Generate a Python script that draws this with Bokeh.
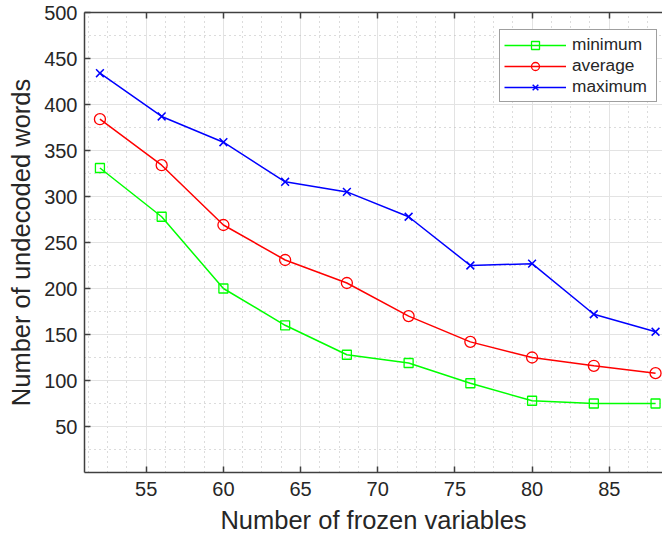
from bokeh.plotting import figure
from bokeh.models import FixedTicker, Range1d, LinearAxis, Legend, LegendItem
from bokeh.embed import file_html
from bokeh.resources import INLINE

frozen = [52, 56, 60, 64, 68, 72, 76, 80, 84, 88]
minimum = [331, 278, 200, 160, 128, 119, 97, 78, 75, 75]
average = [384, 334, 269, 231, 206, 170, 142, 125, 116, 108]
maximum = [434, 387, 359, 316, 305, 278, 225, 227, 172, 153]

x_ticks = [55, 60, 65, 70, 75, 80, 85]
x_minor = [51.25, 52.5, 53.75, 56.25, 57.5, 58.75, 61.25, 62.5, 63.75, 66.25, 67.5, 68.75,
           71.25, 72.5, 73.75, 76.25, 77.5, 78.75, 81.25, 82.5, 83.75, 86.25, 87.5]
y_ticks = [50, 100, 150, 200, 250, 300, 350, 400, 450, 500]
y_minor = [25, 75, 125, 175, 225, 275, 325, 375, 425, 475]

FONT = "Liberation Sans"
AX = "#404040"
TXT = "#262626"

p = figure(width=662, height=536, output_backend="svg", toolbar_location=None,
           x_range=Range1d(51, 88.45), y_range=Range1d(0, 500),
           min_border_left=84, min_border_right=0, min_border_top=12, min_border_bottom=64)
p.outline_line_color = None
p.background_fill_color = "white"

xt = FixedTicker(ticks=x_ticks, minor_ticks=x_minor)
yt = FixedTicker(ticks=y_ticks, minor_ticks=y_minor)
p.xaxis.ticker = xt
p.yaxis.ticker = yt

for ax in (p.xaxis[0], p.yaxis[0]):
    ax.axis_line_color = AX
    ax.axis_line_width = 1.5
    ax.major_tick_in = 6
    ax.major_tick_out = 0
    ax.major_tick_line_color = AX
    ax.major_tick_line_width = 1.5
    ax.minor_tick_in = 0
    ax.minor_tick_out = 0
    ax.major_label_text_font = FONT
    ax.major_label_text_font_size = "20px"
    ax.major_label_text_color = TXT
    ax.axis_label_text_font = FONT
    ax.axis_label_text_font_size = "25.5px"
    ax.axis_label_text_font_style = "normal"
    ax.axis_label_text_color = TXT

p.xaxis.axis_label = "Number of frozen variables"
p.yaxis.axis_label = "Number of undecoded words"
p.xaxis.major_label_standoff = 9
p.yaxis.major_label_standoff = 7
p.xaxis.axis_label_standoff = 7
p.yaxis.axis_label_standoff = 6

# top border with inward ticks (ticks given as "minor" so no labels are drawn)
top = LinearAxis(ticker=FixedTicker(ticks=[], minor_ticks=x_ticks))
top.axis_line_color = AX
top.axis_line_width = 1.5
top.major_tick_in = 0
top.major_tick_out = 0
top.minor_tick_in = 6
top.minor_tick_out = 0
top.minor_tick_line_color = AX
top.minor_tick_line_width = 1.5
top.major_label_standoff = 0
p.add_layout(top, "above")

for g in (p.xgrid[0], p.ygrid[0]):
    g.grid_line_color = "#e3e3e3"
    g.grid_line_width = 1
    g.minor_grid_line_color = "#b8b8b8"
    g.minor_grid_line_dash = "1 4"
    g.minor_grid_line_width = 1

lw = 1.5
l1 = p.line(frozen, minimum, line_color="#00ff00", line_width=lw)
m1 = p.scatter(frozen, minimum, marker="square", size=9, fill_color=None, line_color="#00ff00", line_width=1.3)
l2 = p.line(frozen, average, line_color="#ff0000", line_width=lw)
m2 = p.scatter(frozen, average, marker="circle", size=11, fill_color=None, line_color="#ff0000", line_width=1.3)
l3 = p.line(frozen, maximum, line_color="#0000ff", line_width=lw)
m3 = p.scatter(frozen, maximum, marker="x", size=11, line_color="#0000ff", line_width=1.5)

legend = Legend(items=[
    LegendItem(label="minimum", renderers=[l1, m1]),
    LegendItem(label="average", renderers=[l2, m2]),
    LegendItem(label="maximum", renderers=[l3, m3]),
], location=(415, 370))
legend.label_text_font = FONT
legend.label_text_font_size = "17.3px"
legend.label_text_color = TXT
legend.glyph_width = 62
legend.glyph_height = 20
legend.label_height = 20
legend.label_width = 80
legend.spacing = 0
legend.padding = 4
legend.margin = 0
legend.label_standoff = 6
legend.border_line_color = "#404040"
legend.border_line_width = 1.5
legend.background_fill_color = "white"
legend.background_fill_alpha = 1
p.add_layout(legend, "center")

open("out.html", "w").write(file_html(p, INLINE))
